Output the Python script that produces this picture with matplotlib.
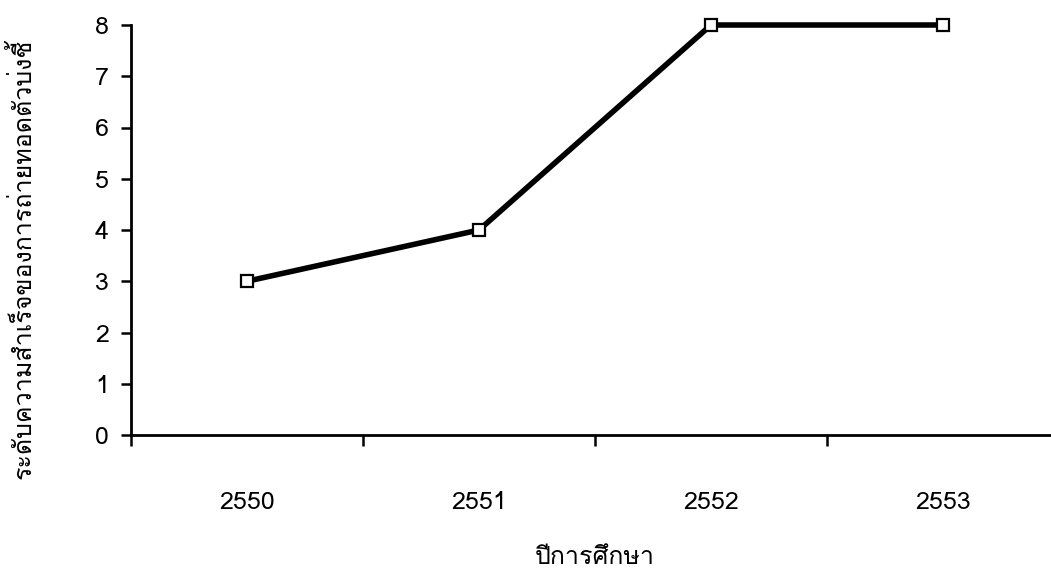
import matplotlib
matplotlib.use("Agg")
import matplotlib.pyplot as plt
from matplotlib import font_manager
from matplotlib.ft2font import FT2Font

years = ["2550", "2551", "2552", "2553"]
levels = [3, 4, 8, 8]
y_ticks = [0, 1, 2, 3, 4, 5, 6, 7, 8]
x_title = "ปีการศึกษา"
y_title = "ระดับความสำเร็จของการถ่ายทอดตัวบ่งชี้"


def find_thai_font():
    # look for any installed font that covers Thai
    for f in font_manager.fontManager.ttflist:
        try:
            cmap = FT2Font(f.fname).get_charmap()
        except Exception:
            continue
        if 0x0E01 in cmap and 0x0E33 in cmap:
            return f.name
    return None


thai = find_thai_font()
families = ([thai] if thai else []) + ["DejaVu Sans"]
plt.rcParams['font.family'] = families

fig = plt.figure(figsize=(10.51, 5.74), dpi=100)
W, H = 1051, 574
left, right, top, bottom = 131, 1059, 25, 435
ax = fig.add_axes([left / W, 1 - bottom / H, (right - left) / W, (bottom - top) / H])

x = list(range(len(years)))
ax.plot(x, levels, color="black", linewidth=4, marker="s", markersize=8.5,
        markerfacecolor="white", markeredgecolor="black", markeredgewidth=1.6,
        clip_on=False, zorder=3)

ax.set_xlim(-0.5, len(years) - 0.5)
ax.set_ylim(0, 8)
ax.set_yticks(y_ticks)
ax.set_yticklabels([str(v) for v in y_ticks], fontsize=18)

# category labels centered, ticks at the category borders
ax.set_xticks(x)
ax.set_xticklabels(years, fontsize=18)
ax.tick_params(axis="x", which="major", length=0, pad=40)
ax.set_xticks([i - 0.5 for i in range(len(years) + 1)], minor=True)
ax.tick_params(axis="x", which="minor", length=8, width=1.8, direction="out")
ax.tick_params(axis="y", length=7, width=1.8, direction="out", pad=9)

for s in ["top", "right"]:
    ax.spines[s].set_visible(False)
for s in ["left", "bottom"]:
    ax.spines[s].set_linewidth(2)

ax.set_xlabel(x_title, fontsize=18)
ax.xaxis.set_label_coords(0.5, -0.30)
ax.xaxis.label.set_va("center")
ax.set_ylabel(y_title, fontsize=18)
ax.yaxis.set_label_coords(-0.1175, 0.43)
ax.yaxis.label.set_va("center")

fig.savefig("out.png", dpi=100)
